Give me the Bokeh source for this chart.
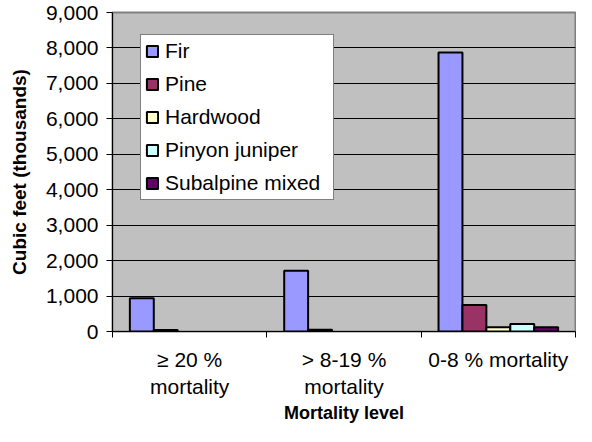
from bokeh.plotting import figure
from bokeh.models import FixedTicker, Range1d, NumeralTickFormatter
from bokeh.embed import file_html
from bokeh.resources import INLINE

categories = ["\u2265 20 %\nmortality", "> 8-19 %\nmortality", "0-8 % mortality"]
series = ["Fir", "Pine", "Hardwood", "Pinyon juniper", "Subalpine mixed"]
fir = [940, 1715, 7870]
pine = [40, 50, 750]
hardwood = [0, 0, 120]
pinyon_juniper = [0, 0, 210]
subalpine_mixed = [0, 0, 120]
colors = ["#9999FF", "#993366", "#FFFFCC", "#CCFFFF", "#660066"]
y_ticks = [0, 1000, 2000, 3000, 4000, 5000, 6000, 7000, 8000, 9000]

values = [fir, pine, hardwood, pinyon_juniper, subalpine_mixed]
FONT = "Liberation Sans"
bar_w = 0.155

p = figure(width=576, height=426, x_range=Range1d(0, len(categories)),
           y_range=Range1d(0, 9000), output_backend="svg", toolbar_location=None,
           min_border_left=112, min_border_right=1, min_border_top=12, min_border_bottom=90)
p.background_fill_color = "#C0C0C0"
p.border_fill_color = "white"
p.outline_line_color = "#808080"
p.outline_line_width = 2

for j, (name, vals) in enumerate(zip(series, values)):
    xs = [i + 0.5 + (j - 2) * bar_w for i, v in enumerate(vals) if v > 0]
    tops = [v for v in vals if v > 0]
    p.vbar(x=xs, top=tops, bottom=0, width=bar_w, fill_color=colors[j],
           line_color="black", line_width=2, legend_label=name)

# grids
p.xgrid.grid_line_color = None
p.ygrid.grid_line_color = "black"
p.ygrid.grid_line_width = 1
p.ygrid.ticker = FixedTicker(ticks=y_ticks)

# y axis
p.yaxis.ticker = FixedTicker(ticks=y_ticks)
p.yaxis.formatter = NumeralTickFormatter(format="0,0")
p.yaxis.axis_label = "Cubic feet (thousands)"
p.yaxis.axis_label_text_font = FONT
p.yaxis.axis_label_text_font_style = "bold"
p.yaxis.axis_label_text_font_size = "19px"
p.yaxis.axis_label_text_color = "black"
p.yaxis.axis_label_standoff = 13
p.yaxis.major_label_text_font = FONT
p.yaxis.major_label_text_font_size = "21px"
p.yaxis.major_label_text_color = "black"
p.yaxis.major_tick_out = 6
p.yaxis.major_tick_in = 0
p.yaxis.minor_tick_line_color = None
p.yaxis.axis_line_color = "black"
p.yaxis.major_tick_line_color = "black"
p.yaxis.major_label_standoff = 8

# x axis
centers = [i + 0.5 for i in range(len(categories))]
bounds = [float(i) for i in range(len(categories) + 1)]
p.xaxis.ticker = FixedTicker(ticks=centers, minor_ticks=bounds)
p.xaxis.major_label_overrides = {c: lab for c, lab in zip(centers, categories)}
p.xaxis.major_tick_line_color = None
p.xaxis.major_tick_out = 0
p.xaxis.major_tick_in = 0
p.xaxis.minor_tick_line_color = "black"
p.xaxis.minor_tick_out = 6
p.xaxis.minor_tick_in = 0
p.xaxis.axis_line_color = "black"
p.xaxis.major_label_text_font = FONT
p.xaxis.major_label_text_font_size = "21px"
p.xaxis.major_label_text_color = "black"
p.xaxis.major_label_standoff = 10
p.xaxis.axis_label = "Mortality level"
p.xaxis.axis_label_text_font = FONT
p.xaxis.axis_label_text_font_style = "bold"
p.xaxis.axis_label_text_font_size = "18px"
p.xaxis.axis_label_text_color = "black"
p.xaxis.axis_label_standoff = 2

# legend
lg = p.legend[0]
lg.location = (28, 131)
lg.label_text_font = FONT
lg.label_text_font_size = "21px"
lg.label_text_color = "black"
lg.glyph_width = 14
lg.glyph_height = 14
lg.label_height = 21
lg.label_width = 164
lg.label_standoff = 6
lg.spacing = 9
lg.padding = 4
lg.margin = 0
lg.border_line_color = "black"
lg.border_line_width = 1
lg.background_fill_color = "white"
lg.background_fill_alpha = 1.0

open("out.html", "w").write(file_html(p, INLINE))
